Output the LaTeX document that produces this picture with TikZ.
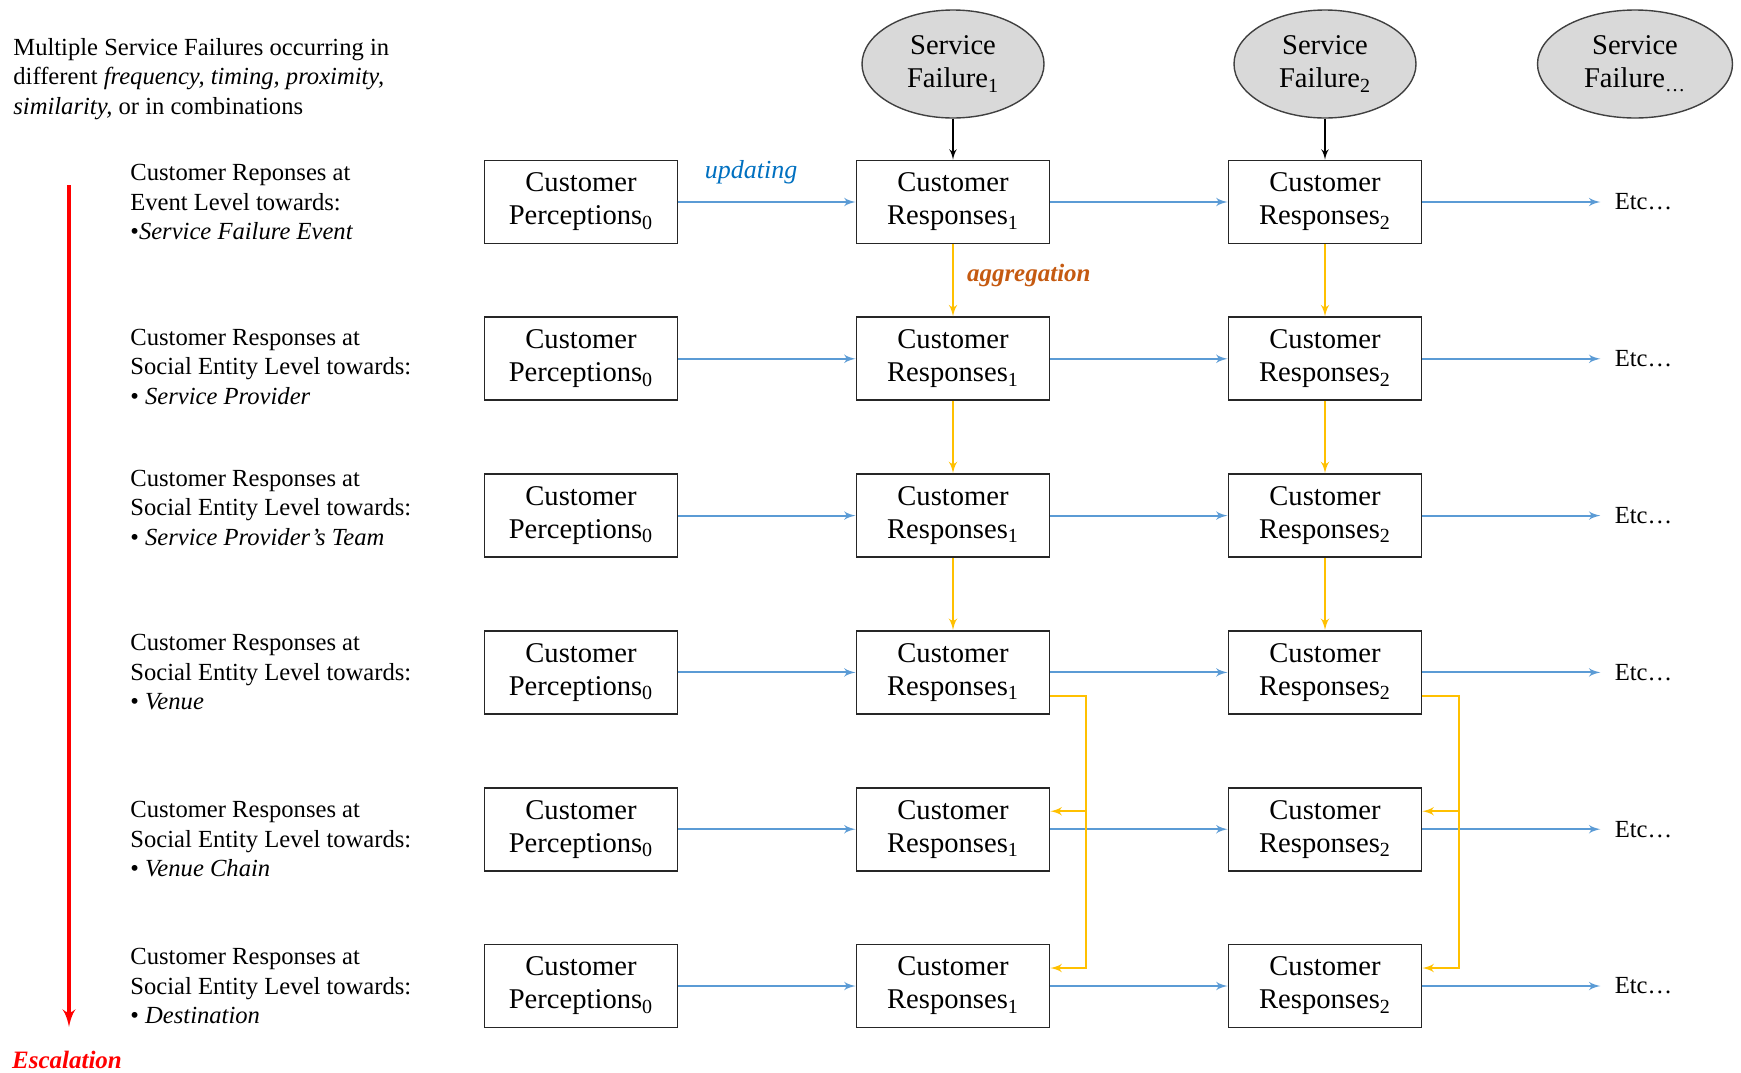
\documentclass[tikz,border=0pt]{standalone}
\usepackage{fontspec}
\setmainfont{Liberation Serif}
\usepackage{tikz}
\usetikzlibrary{arrows,shapes,positioning}
\definecolor{updblue}{HTML}{5B9BD5}
\definecolor{updtext}{HTML}{0070C0}
\definecolor{aggyellow}{HTML}{FFC000}
\definecolor{aggtext}{HTML}{C55A11}
\definecolor{sfgray}{HTML}{D9D9D9}
\tikzstyle{box}=[rectangle,draw=black!85,line width=.9pt,minimum width=96.5pt,
  minimum height=41.5pt,inner sep=0pt,align=center,
  font=\fontsize{14.3}{16.5}\selectfont]
\tikzstyle{failure}=[ellipse,draw=black!75,fill=sfgray,line width=.7pt,
  minimum width=91pt,minimum height=54pt,inner sep=0pt,align=center,
  font=\fontsize{14.3}{16.5}\selectfont]
\tikzstyle{level}=[anchor=west,align=left,inner sep=0pt,
  font=\fontsize{12.3}{14.8}\selectfont]
\tikzstyle{etc}=[inner sep=0pt,inner xsep=7pt,font=\fontsize{12.3}{14.8}\selectfont]
\tikzstyle{update}=[->,draw=updblue,line width=1pt]
\tikzstyle{aggr}=[->,draw=aggyellow,line width=1pt]
\tikzstyle{cause}=[->,black,line width=.8pt]
\tikzstyle{escal}=[->,red,line width=2pt]

\begin{document}
\begin{tikzpicture}[>=latex',node distance=78.4pt,x=.5pt,y=-.5pt]
  \useasboundingbox (0,0) rectangle (1741,1072);

  % perceptions and responses, one row per level
  \node[box] (p1) at (581,202) {Customer\\Perceptions\textsubscript{0}};
  \node[box] (r11) [node distance=186pt,right of=p1] {Customer\\Responses\textsubscript{1}};
  \node[box] (r21) [node distance=186pt,right of=r11] {Customer\\Responses\textsubscript{2}};

  \node[box] (p2) [below of=p1] {Customer\\Perceptions\textsubscript{0}};
  \node[box] (r12) [below of=r11] {Customer\\Responses\textsubscript{1}};
  \node[box] (r22) [below of=r21] {Customer\\Responses\textsubscript{2}};

  \node[box] (p3) [below of=p2] {Customer\\Perceptions\textsubscript{0}};
  \node[box] (r13) [below of=r12] {Customer\\Responses\textsubscript{1}};
  \node[box] (r23) [below of=r22] {Customer\\Responses\textsubscript{2}};

  \node[box] (p4) [below of=p3] {Customer\\Perceptions\textsubscript{0}};
  \node[box] (r14) [below of=r13] {Customer\\Responses\textsubscript{1}};
  \node[box] (r24) [below of=r23] {Customer\\Responses\textsubscript{2}};

  \node[box] (p5) [below of=p4] {Customer\\Perceptions\textsubscript{0}};
  \node[box] (r15) [below of=r14] {Customer\\Responses\textsubscript{1}};
  \node[box] (r25) [below of=r24] {Customer\\Responses\textsubscript{2}};

  \node[box] (p6) [below of=p5] {Customer\\Perceptions\textsubscript{0}};
  \node[box] (r16) [below of=r15] {Customer\\Responses\textsubscript{1}};
  \node[box] (r26) [below of=r25] {Customer\\Responses\textsubscript{2}};

  % service failures
  \node[failure] (f1) [node distance=69pt,above of=r11] {Service\\Failure\textsubscript{1}};
  \node[failure] (f2) [node distance=69pt,above of=r21] {Service\\Failure\textsubscript{2}};
  \node[failure,minimum width=97.5pt] (f3) [node distance=155pt,right of=f2] {Service\\Failure\textsubscript{\dots}};

  \node[etc] (e1) [right=89pt of r21] {Etc\dots};
  \node[etc] (e2) [right=89pt of r22] {Etc\dots};
  \node[etc] (e3) [right=89pt of r23] {Etc\dots};
  \node[etc] (e4) [right=89pt of r24] {Etc\dots};
  \node[etc] (e5) [right=89pt of r25] {Etc\dots};
  \node[etc] (e6) [right=89pt of r26] {Etc\dots};

  % levels on the left
  \coordinate (lx) at (130,0);
  \node[level] (intro) at (13,79) {Multiple Service Failures occurring in\\
    different \textit{frequency, timing, proximity,}\\
    \textit{similarity,} or in combinations};
  \node[level] (l1) at (p1 -| lx) {Customer Reponses at\\Event Level towards:\\
    \textbullet\textit{Service Failure Event}};
  \node[level,yshift=-4pt] (l2) at (p2 -| lx) {Customer Responses at\\
    Social Entity Level towards:\\\textbullet\ \textit{Service Provider}};
  \node[level,yshift=4pt] (l3) at (p3 -| lx) {Customer Responses at\\
    Social Entity Level towards:\\\textbullet\ \textit{Service Provider's Team}};
  \node[level] (l4) at (p4 -| lx) {Customer Responses at\\
    Social Entity Level towards:\\\textbullet\ \textit{Venue}};
  \node[level,yshift=-5pt] (l5) at (p5 -| lx) {Customer Responses at\\
    Social Entity Level towards:\\\textbullet\ \textit{Venue Chain}};
  \node[level] (l6) at (p6 -| lx) {Customer Responses at\\
    Social Entity Level towards:\\\textbullet\ \textit{Destination}};

  \node[inner sep=0pt,red,font=\fontsize{12.5}{15}\selectfont\bfseries\itshape] (escl)
    at (67,1060) {Escalation};
  \coordinate (esctop) at (69,185);
  \draw[escal,shorten >=12pt] (esctop) -- (esctop |- escl.north);

  % failures cause responses
  \draw[cause] (f1) -- (r11);
  \draw[cause] (f2) -- (r21);

  % updating
  \draw[update] (p1) -- node[above=8.5pt,pos=.41,inner sep=0pt,
    font=\fontsize{13}{15}\selectfont\itshape,text=updtext] {updating} (r11);
  \draw[update] (r11) -- (r21);
  \draw[update] (r21) -- (e1);
  \draw[update] (p2) -- (r12);
  \draw[update] (r12) -- (r22);
  \draw[update] (r22) -- (e2);
  \draw[update] (p3) -- (r13);
  \draw[update] (r13) -- (r23);
  \draw[update] (r23) -- (e3);
  \draw[update] (p4) -- (r14);
  \draw[update] (r14) -- (r24);
  \draw[update] (r24) -- (e4);
  \draw[update] (p5) -- (r15);
  \draw[update] (r15) -- (r25);
  \draw[update] (r25) -- (e5);
  \draw[update] (p6) -- (r16);
  \draw[update] (r16) -- (r26);
  \draw[update] (r26) -- (e6);

  % aggregation
  \draw[aggr] (r11) -- node[right=6.5pt,pos=.43,inner sep=0pt,
    font=\fontsize{12.5}{15}\selectfont\bfseries\itshape,text=aggtext] {aggregation} (r12);
  \draw[aggr] (r12) -- (r13);
  \draw[aggr] (r13) -- (r14);
  \draw[aggr] (r21) -- (r22);
  \draw[aggr] (r22) -- (r23);
  \draw[aggr] (r23) -- (r24);

  \coordinate (k1) at ([xshift=18pt,yshift=-12pt]r14.east);
  \coordinate (t15) at ([yshift=9pt]r15.east);
  \coordinate (t16) at ([yshift=9pt]r16.east);
  \draw[aggr] ([yshift=-12pt]r14.east) -- (k1) |- (t16);
  \draw[aggr] (t15 -| k1) -- (t15);

  \coordinate (k2) at ([xshift=18.5pt,yshift=-12pt]r24.east);
  \coordinate (t25) at ([yshift=9pt]r25.east);
  \coordinate (t26) at ([yshift=9pt]r26.east);
  \draw[aggr] ([yshift=-12pt]r24.east) -- (k2) |- (t26);
  \draw[aggr] (t25 -| k2) -- (t25);
\end{tikzpicture}
\end{document}
